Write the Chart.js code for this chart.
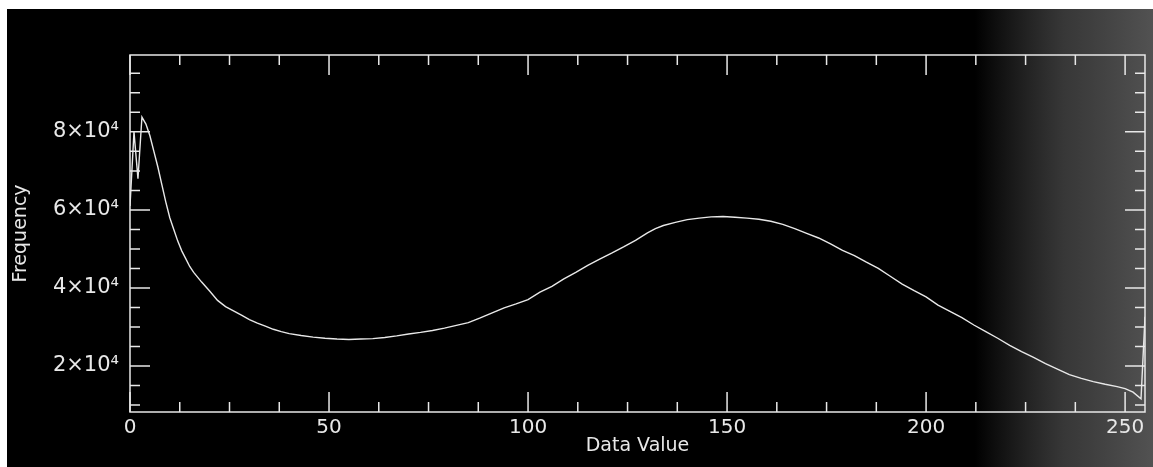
<!DOCTYPE html>
<html>
<head>
<meta charset="utf-8">
<script src="https://cdn.jsdelivr.net/npm/chart.js@4"></script>
<style>
  html, body { margin: 0; padding: 0; background: #fff; }
  #wrap { width: 1153px; height: 467px; }
</style>
</head>
<body>
<div id="wrap"><canvas id="hist-chart" width="1153" height="467"></canvas></div>
<script>
// data -------------------------------
let dataValues = [0, 1, 2, 3, 4, 5, 6, 7, 8, 9, 10, 11, 12, 13, 14, 15, 16, 18, 20, 22, 24, 26, 28, 30,
  32, 34, 36, 38, 40, 43, 46, 49, 52, 55, 58, 61, 64, 67, 70, 73, 76, 79, 82, 85, 88, 91, 94, 97,
  100, 103, 106, 109, 112, 115, 118, 121, 124, 127, 130, 132, 134, 137, 140, 143, 146, 149, 152, 155,
  158, 161, 164, 167, 170, 173, 176, 179, 182, 185, 188, 191, 194, 197, 200, 203, 206, 209, 212, 215,
  218, 221, 224, 227, 230, 233, 236, 239, 242, 245, 248, 250, 252, 254, 255];
let frequency = [61000, 80000, 68000, 83800, 82000, 79000, 75000, 71000, 66500, 62000, 58000, 55000,
  52000, 49500, 47500, 45500, 44000, 41500, 39200, 36800, 35200, 34100, 33000, 31900,
  31000, 30200, 29400, 28800, 28300, 27800, 27400, 27100, 26900, 26800, 26900, 27000, 27300, 27700,
  28200, 28600, 29100, 29700, 30400, 31100, 32300, 33600, 34900, 35900,
  37000, 38900, 40400, 42300, 44000, 45800, 47400, 48900, 50500, 52200, 54100, 55200, 56000, 56800,
  57500, 57900, 58200, 58300, 58100, 57900,
  57600, 57100, 56300, 55200, 54000, 52800, 51300, 49600, 48300, 46600, 45000, 43000, 41000, 39300,
  37700, 35600, 34000, 32400, 30500, 28800,
  27100, 25300, 23700, 22200, 20600, 19200, 17800, 16800, 16000, 15300, 14700, 14200, 13300, 11600, 32600];

let xTickValues = [0, 50, 100, 150, 200, 250];
let yTickValues = [20000, 40000, 60000, 80000];
let yTickLabels = ['2×10⁴', '4×10⁴', '6×10⁴', '8×10⁴'];

let points = dataValues.map((d, i) => ({ x: d, y: frequency[i] }));

const fg = '#e8e8e8';
const fontFamily = '"DejaVu Sans", sans-serif';

// background: white margin, black field, grey fade on the right
const backdrop = {
  id: 'backdrop',
  beforeDraw(chart) {
    const ctx = chart.ctx;
    ctx.save();
    ctx.fillStyle = '#fff';
    ctx.fillRect(0, 0, chart.width, chart.height);
    ctx.fillStyle = '#000';
    ctx.fillRect(7, 9, chart.width - 7, chart.height - 9);
    let g = ctx.createLinearGradient(975, 0, chart.width, 0);
    g.addColorStop(0, 'rgba(75,75,75,0)');
    g.addColorStop(0.5, 'rgba(65,65,65,0.85)');
    g.addColorStop(1, 'rgba(82,82,82,1)');
    ctx.fillStyle = g;
    ctx.fillRect(975, 9, chart.width - 975, chart.height - 9);
    ctx.restore();
  }
};

// box + inward ticks on all four sides (IDL style)
const boxTicks = {
  id: 'boxTicks',
  afterDatasetsDraw(chart) {
    const ctx = chart.ctx;
    const a = chart.chartArea;
    const xs = chart.scales.x;
    const ys = chart.scales.y;
    ctx.save();
    ctx.strokeStyle = fg;
    ctx.lineWidth = 1.5;
    ctx.strokeRect(a.left, a.top, a.right - a.left, a.bottom - a.top);
    ctx.beginPath();
    for (let v = 0; v <= 250; v += 12.5) {
      let px = xs.getPixelForValue(v);
      let len = v % 50 === 0 ? 20 : 10;
      ctx.moveTo(px, a.bottom); ctx.lineTo(px, a.bottom - len);
      ctx.moveTo(px, a.top); ctx.lineTo(px, a.top + len);
    }
    for (let v = 10000; v <= 95000; v += 5000) {
      let py = ys.getPixelForValue(v);
      let len = v % 20000 === 0 ? 20 : 10;
      ctx.moveTo(a.left, py); ctx.lineTo(a.left + len, py);
      ctx.moveTo(a.right, py); ctx.lineTo(a.right - len, py);
    }
    ctx.stroke();
    ctx.restore();
  }
};

const ctx = document.getElementById('hist-chart').getContext('2d');
let chart = new Chart(ctx, {
  type: 'scatter',
  data: {
    datasets: [{
      data: points,
      showLine: true,
      borderColor: fg,
      borderWidth: 1.4,
      pointRadius: 0,
      tension: 0
    }]
  },
  options: {
    responsive: false,
    animation: false,
    layout: { padding: { top: 55, right: 8, left: 0, bottom: 0 } },
    plugins: { legend: { display: false }, tooltip: { enabled: false } },
    scales: {
      x: {
        type: 'linear',
        min: 0,
        max: 255,
        afterFit(s) { s.height = 55; },
        afterBuildTicks(s) { s.ticks = xTickValues.map(v => ({ value: v })); },
        grid: { display: false, drawTicks: false },
        border: { display: false },
        ticks: { color: fg, font: { family: fontFamily, size: 20 }, padding: 4, maxRotation: 0 },
        title: {
          display: true, text: 'Data Value', color: fg,
          font: { family: fontFamily, size: 19 }, padding: { top: 0, bottom: 10 }
        }
      },
      y: {
        min: 8200,
        max: 99700,
        afterFit(s) { s.width = 130; },
        afterBuildTicks(s) { s.ticks = yTickValues.map(v => ({ value: v })); },
        grid: { display: false, drawTicks: false },
        border: { display: false },
        ticks: {
          color: fg, font: { family: fontFamily, size: 21 }, padding: 11,
          callback: (v) => yTickLabels[yTickValues.indexOf(v)]
        },
        title: {
          display: true, text: 'Frequency', color: fg,
          font: { family: fontFamily, size: 19 }, padding: { top: 10, bottom: 0 }
        }
      }
    }
  },
  plugins: [backdrop, boxTicks]
});
</script>
</body>
</html>
